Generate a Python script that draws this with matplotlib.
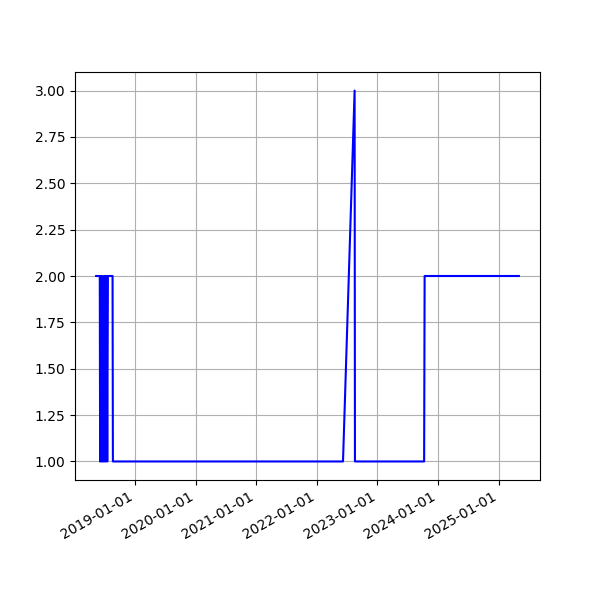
import matplotlib
matplotlib.use("Agg")
import matplotlib.pyplot as plt
import matplotlib.dates as mdates
import pandas as pd

dates = ["2018-05-12", "2018-06-03", "2018-06-05", "2018-06-09", "2018-06-12",
         "2018-06-16", "2018-06-19", "2018-06-25", "2018-06-27", "2018-07-02",
         "2018-07-06", "2018-07-10", "2018-07-14", "2018-07-18", "2018-07-22",
         "2018-08-19", "2018-08-21", "2022-06-08", "2022-08-17", "2022-08-19",
         "2023-10-10", "2023-10-13", "2025-05-03"]
values = [2, 2, 1, 2, 1,
          2, 1, 1, 2, 1,
          2, 1, 2, 1, 2,
          2, 1, 1, 3, 1,
          1, 2, 2]

x = pd.to_datetime(dates)
fig, ax = plt.subplots(figsize=(6, 6), dpi=100)
ax.plot(x, values, color="blue")
ax.grid(True)
ax.xaxis.set_major_locator(mdates.YearLocator())
ax.xaxis.set_major_formatter(mdates.DateFormatter("%Y-%m-%d"))
fig.autofmt_xdate()
fig.savefig("out.png")
